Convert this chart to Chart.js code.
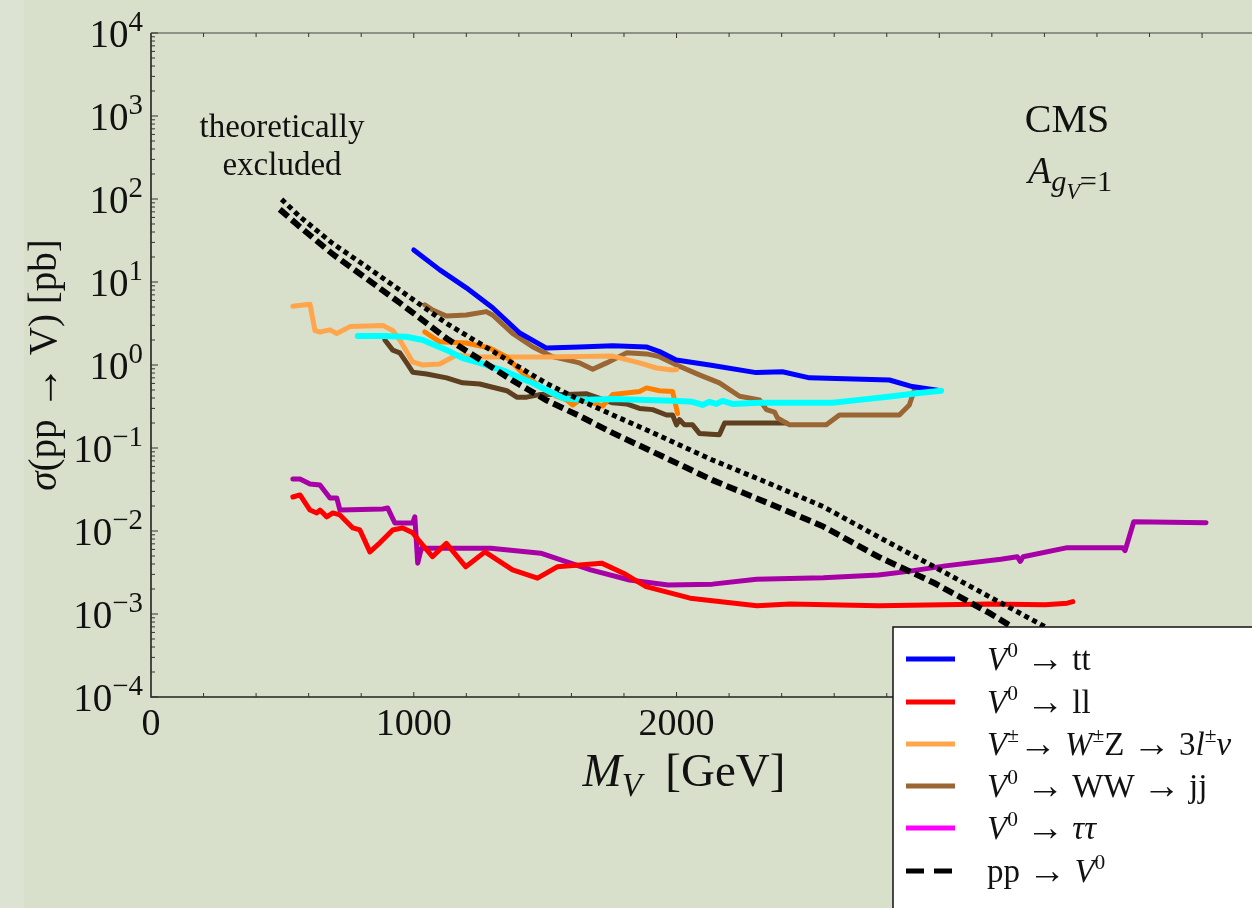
<!DOCTYPE html>
<html>
<head>
<meta charset="utf-8">
<script src="https://cdn.jsdelivr.net/npm/chart.js@4.4.1/dist/chart.umd.min.js"></script>
<style>
  html, body { margin: 0; padding: 0; background: #d8e0cb; overflow: hidden; }
  canvas { display: block; }
</style>
</head>
<body>
<canvas id="limitChart" width="1252" height="908"></canvas>
<script>
// masses in GeV, cross sections in pb
var ttMass = [1000, 1099, 1200, 1300, 1403, 1505, 1631, 1757, 1885, 1935, 1999, 2126, 2303, 2403, 2506, 2810, 2897, 3006];
var ttSigma = [24.3, 14, 8.5, 4.9, 2.43, 1.6, 1.65, 1.7, 1.65, 1.45, 1.15, 1.0, 0.81, 0.83, 0.70, 0.66, 0.55, 0.49];

var llMass = [540, 567, 605, 631, 643, 669, 692, 719, 768, 795, 833, 871, 920, 958, 996, 1018, 1071, 1124, 1198, 1271, 1376, 1471, 1546, 1715, 1798, 1884, 2052, 2306, 2432, 2770, 3192, 3403, 3487, 3508];
var llSigma = [0.0257, 0.0272, 0.0179, 0.0165, 0.0179, 0.0148, 0.0165, 0.0156, 0.0109, 0.0103, 0.0056, 0.0072, 0.0103, 0.0109, 0.0095, 0.0078, 0.0049, 0.0071, 0.0037, 0.0056, 0.0034, 0.0027, 0.0037, 0.0041, 0.0031, 0.00214, 0.00155, 0.00126, 0.00132, 0.00126, 0.00132, 0.00129, 0.00135, 0.00141];

var wzMass = [540, 605, 624, 643, 681, 707, 757, 882, 920, 947, 996, 1034, 1099, 1163, 1251, 1376, 1506, 1757, 1859, 1924, 1985, 2000];
var wzSigma = [5.1, 5.4, 2.6, 2.5, 2.65, 2.4, 2.9, 3.0, 2.6, 2.0, 1.09, 1.0, 1.03, 1.32, 1.25, 1.25, 1.25, 1.28, 1.06, 0.92, 0.87, 0.88];

var wz2Mass = [1042, 1099, 1200, 1289, 1352, 1414, 1479, 1543, 1581, 1605, 1631, 1681, 1719, 1757, 1859, 1886, 1935, 1985, 2004];
var wz2Sigma = [2.5, 1.9, 1.84, 1.6, 1.26, 0.80, 0.55, 0.42, 0.38, 0.33, 0.38, 0.35, 0.32, 0.44, 0.48, 0.53, 0.49, 0.48, 0.26];

var whMass = [787, 882, 972, 1034, 1124, 1186, 1251, 1352, 1441, 1505, 1567, 1631, 1757, 1885, 1985, 2061, 2099, 2125, 2152, 2175, 2213, 2316, 2593, 2696, 2821, 2924, 3006];
var whSigma = [2.23, 2.23, 2.19, 2.0, 1.52, 1.21, 1.06, 0.83, 0.63, 0.50, 0.40, 0.38, 0.39, 0.38, 0.37, 0.36, 0.33, 0.36, 0.34, 0.37, 0.34, 0.35, 0.35, 0.38, 0.42, 0.46, 0.49];

var wwMass = [1042, 1072, 1124, 1200, 1276, 1300, 1376, 1452, 1528, 1631, 1681, 1734, 1810, 1886, 1935, 2000, 2087, 2163, 2240, 2316, 2342, 2373, 2384, 2430, 2570, 2620, 2848, 2886, 2905];
var wwSigma = [5.3, 4.6, 3.9, 4.0, 4.4, 4.0, 2.4, 1.66, 1.26, 1.06, 0.89, 1.06, 1.40, 1.36, 1.26, 1.0, 0.76, 0.61, 0.42, 0.38, 0.29, 0.27, 0.23, 0.19, 0.19, 0.25, 0.25, 0.33, 0.50];

var ww2Mass = [890, 920, 947, 973, 996, 1049, 1125, 1186, 1251, 1300, 1354, 1392, 1430, 1479, 1582, 1658, 1757, 1810, 1859, 1909, 1962, 1985, 2000, 2011, 2030, 2061, 2087, 2163, 2183, 2418];
var ww2Sigma = [2.0, 1.51, 1.40, 1.06, 0.82, 0.78, 0.70, 0.61, 0.59, 0.54, 0.49, 0.41, 0.41, 0.44, 0.44, 0.45, 0.35, 0.34, 0.30, 0.29, 0.25, 0.25, 0.19, 0.22, 0.19, 0.19, 0.15, 0.144, 0.20, 0.20];

var tauMass = [540, 567, 605, 643, 681, 707, 719, 882, 901, 928, 996, 1004, 1015, 1029, 1293, 1483, 1673, 1821, 1968, 2137, 2304, 2559, 2768, 2875, 3023, 3234, 3297, 3308, 3319, 3487, 3698, 3707, 3740, 4015];
var tauSigma = [0.0424, 0.0424, 0.0368, 0.0358, 0.025, 0.025, 0.0179, 0.0184, 0.0189, 0.0125, 0.0125, 0.0148, 0.0041, 0.0062, 0.0062, 0.0054, 0.0034, 0.00257, 0.00224, 0.00229, 0.00263, 0.00274, 0.00295, 0.00324, 0.0038, 0.00457, 0.0049, 0.0043, 0.0049, 0.0063, 0.0063, 0.0058, 0.0129, 0.0126];

var ppUpMass = [497, 567, 692, 820, 947, 1124, 1251, 1376, 1505, 1631, 1757, 1886, 2137, 2348, 2559, 2768, 2981, 3190, 3403];
var ppUpSigma = [99, 61, 29, 15.3, 8.0, 3.18, 1.82, 1.05, 0.60, 0.38, 0.25, 0.165, 0.0716, 0.038, 0.0196, 0.0085, 0.0037, 0.00162, 0.00070];

var ppLoMass = [490, 567, 692, 820, 947, 1124, 1251, 1376, 1505, 1631, 1757, 1968, 2137, 2348, 2559, 2768, 2981, 3190, 3276];
var ppLoSigma = [75, 46, 21.6, 11.0, 5.6, 2.1, 1.17, 0.65, 0.376, 0.243, 0.152, 0.0736, 0.041, 0.0217, 0.0113, 0.0049, 0.00236, 0.00103, 0.000703];

var xTickValues = [0, 1000, 2000, 3000, 4000];
var yTickExps = [-4, -3, -2, -1, 0, 1, 2, 3, 4];

var legendNames = ['V0 -> tt', 'V0 -> ll', 'V+- -> W+-Z -> 3l+-nu', 'V0 -> WW -> jj', 'V0 -> tautau', 'pp -> V0'];
var legendColors = ['#0000ff', '#ff0000', '#ffa64d', '#9a6633', '#ff00ff', '#000000'];

function pts(ms, ss) {
  return ms.map(function (m, i) { return { x: m, y: ss[i] }; });
}

function line(label, ms, ss, color, width, dash) {
  return {
    label: label,
    data: pts(ms, ss),
    borderColor: color,
    borderWidth: width,
    borderDash: dash || [],
    borderJoinStyle: dash ? 'miter' : 'round',
    borderCapStyle: dash ? 'butt' : 'round',
    pointRadius: 0,
    tension: 0,
    fill: false
  };
}

var SERIF = '"Liberation Serif", "DejaVu Serif", serif';

function fontOf(size, italic, fam) {
  return (italic ? 'italic ' : '') + size + 'px ' + (fam || SERIF);
}

// segment helpers: text, italic, size factor, baseline shift (fraction of size)
function N(t) { return { t: t, it: false, sc: 1, dy: 0 }; }
function I(t) { return { t: t, it: true, sc: 1, dy: 0 }; }
function SUP(t, it, sc) { return { t: t, it: !!it, sc: sc || 0.65, dy: -0.38 }; }
function SUB(t, it) { return { t: t, it: !!it, sc: 0.7, dy: 0.22 }; }
function ARR() { return { t: '\u2192', it: false, sc: 1.15, dy: 0.04 }; }

function drawRich(ctx, segs, x, y, size, align) {
  var w = 0;
  segs.forEach(function (s) {
    ctx.font = fontOf(size * s.sc, s.it, s.fam);
    w += ctx.measureText(s.t).width;
  });
  var cx = align === 'right' ? x - w : (align === 'center' ? x - w / 2 : x);
  ctx.textAlign = 'left';
  ctx.textBaseline = 'alphabetic';
  segs.forEach(function (s) {
    ctx.font = fontOf(size * s.sc, s.it, s.fam);
    ctx.fillText(s.t, cx, y + s.dy * size);
    cx += ctx.measureText(s.t).width;
  });
}

var legendTexts = [
  [I('V'), SUP('0'), N(' '), ARR(), N(' tt')],
  [I('V'), SUP('0'), N(' '), ARR(), N(' ll')],
  [I('V'), SUP('\u00b1'), ARR(), N(' '), I('W'), SUP('\u00b1'), N('Z '), ARR(), N(' 3'), I('l'), SUP('\u00b1'), I('\u03bd')],
  [I('V'), SUP('0'), N(' '), ARR(), N(' WW '), ARR(), N(' jj')],
  [I('V'), SUP('0'), N(' '), ARR(), N(' '), I('\u03c4\u03c4')],
  [N('pp '), ARR(), N(' '), I('V'), SUP('0')]
];

var decor = {
  id: 'decor',
  beforeDraw: function (chart) {
    var ctx = chart.ctx;
    ctx.save();
    ctx.fillStyle = '#d8e0cb';
    ctx.fillRect(0, 0, chart.width, chart.height);
    ctx.fillStyle = '#dce3d2';
    ctx.fillRect(0, 0, 24, chart.height);
    ctx.restore();
  },
  afterDraw: function (chart) {
    var ctx = chart.ctx;
    var a = chart.chartArea;
    var xs = chart.scales.x;
    var ys = chart.scales.y;
    ctx.save();

    // frame
    ctx.strokeStyle = '#222';
    ctx.lineWidth = 1.6;
    ctx.beginPath();
    ctx.moveTo(a.left, a.top);
    ctx.lineTo(a.left, a.bottom);
    ctx.lineTo(a.right, a.bottom);
    ctx.stroke();
    ctx.strokeStyle = '#444';
    ctx.lineWidth = 1.2;
    ctx.beginPath();
    ctx.moveTo(a.left, a.top);
    ctx.lineTo(a.right, a.top);
    ctx.stroke();

    // inward ticks
    ctx.lineWidth = 1;
    ctx.strokeStyle = '#333';
    ctx.beginPath();
    for (var e = -4; e <= 3; e++) {
      for (var m = 1; m <= 9; m++) {
        var py = ys.getPixelForValue(m * Math.pow(10, e));
        var len = m === 1 ? 7 : 4;
        ctx.moveTo(a.left, py);
        ctx.lineTo(a.left + len, py);
      }
    }
    var ptop = ys.getPixelForValue(1e4);
    ctx.moveTo(a.left, ptop);
    ctx.lineTo(a.left + 7, ptop);
    for (var v = 200; v <= 4200; v += 200) {
      var px = xs.getPixelForValue(v);
      if (px > a.right) break;
      var tl = v % 1000 === 0 ? 5 : 4;
      ctx.moveTo(px, a.bottom);
      ctx.lineTo(px, a.bottom - tl);
      ctx.moveTo(px, a.top);
      ctx.lineTo(px, a.top + tl);
    }
    ctx.stroke();

    ctx.fillStyle = '#111';
    // y tick labels
    yTickExps.forEach(function (ex) {
      var py = ys.getPixelForValue(Math.pow(10, ex));
      var et = ex < 0 ? '\u2212' + Math.abs(ex) : String(ex);
      drawRich(ctx, [N('10'), { t: et, it: false, sc: 0.74, dy: -0.4 }], a.left - 8, py + 14, 39, 'right');
    });
    // x tick labels
    xTickValues.forEach(function (v) {
      drawRich(ctx, [N(String(v))], xs.getPixelForValue(v), 735, 38, 'center');
    });

    // axis titles
    drawRich(ctx, [I('M'), SUB('V', true), N('  [GeV]')], 684, 786, 47, 'center');
    ctx.save();
    ctx.translate(56, (a.top + a.bottom) / 2);
    ctx.rotate(-Math.PI / 2);
    drawRich(ctx, [I('\u03c3'), N('(pp '), ARR(), N(' V) [pb]')], 0, 0, 39, 'center');
    ctx.restore();

    // annotations
    drawRich(ctx, [N('theoretically')], 282, 137, 33, 'center');
    drawRich(ctx, [N('excluded')], 282, 175, 33, 'center');
    drawRich(ctx, [N('CMS')], 1067, 132, 40, 'center');
    drawRich(ctx, [I('A'), { t: 'g', it: true, sc: 0.8, dy: 0.2 }, { t: 'V', it: true, sc: 0.58, dy: 0.42 }, { t: '=1', it: false, sc: 0.8, dy: 0.2 }], 1028, 183, 38, 'left');

    // legend box
    var lx = 893, ly = 627;
    ctx.fillStyle = '#ffffff';
    ctx.fillRect(lx, ly, chart.width - lx + 2, chart.height - ly + 2);
    ctx.strokeStyle = '#111';
    ctx.lineWidth = 1.5;
    ctx.beginPath();
    ctx.moveTo(lx, chart.height);
    ctx.lineTo(lx, ly);
    ctx.lineTo(chart.width, ly);
    ctx.stroke();
    var rows = [659, 702, 744, 786, 828, 871];
    rows.forEach(function (ry, i) {
      ctx.strokeStyle = legendColors[i];
      ctx.lineWidth = 5;
      ctx.setLineDash(i === 5 ? [18, 10] : []);
      ctx.beginPath();
      ctx.moveTo(906, ry);
      ctx.lineTo(955, ry);
      ctx.stroke();
      ctx.setLineDash([]);
      ctx.fillStyle = '#111';
      drawRich(ctx, legendTexts[i], 987, ry + 11, 33, 'left');
    });
    ctx.restore();
  }
};

var ctx = document.getElementById('limitChart').getContext('2d');

new Chart(ctx, {
  type: 'line',
  data: {
    datasets: [
      line('pp -> V0 (upper)', ppUpMass, ppUpSigma, '#000000', 5, [5, 4]),
      line('pp -> V0', ppLoMass, ppLoSigma, '#000000', 6, [11, 5]),
      line('cyan limit', whMass, whSigma, '#00ffff', 6),
      line(legendNames[0], ttMass, ttSigma, legendColors[0], 5),
      line('orange limit', wz2Mass, wz2Sigma, '#ff8000', 5),
      line(legendNames[2], wzMass, wzSigma, legendColors[2], 5),
      line(legendNames[3], wwMass, wwSigma, legendColors[3], 5),
      line('dark brown limit', ww2Mass, ww2Sigma, '#5e3f20', 5),
      line(legendNames[1], llMass, llSigma, legendColors[1], 5),
      line(legendNames[4], tauMass, tauSigma, '#a600a6', 5)
    ]
  },
  options: {
    responsive: false,
    animation: false,
    devicePixelRatio: 1,
    layout: { padding: { left: 151, top: 33, right: 0, bottom: 211 } },
    scales: {
      x: { type: 'linear', min: 0, max: 4190, display: false },
      y: { type: 'logarithmic', min: 1e-4, max: 1e4, display: false }
    },
    plugins: {
      legend: { display: false },
      tooltip: { enabled: false }
    }
  },
  plugins: [decor]
});
</script>
</body>
</html>
